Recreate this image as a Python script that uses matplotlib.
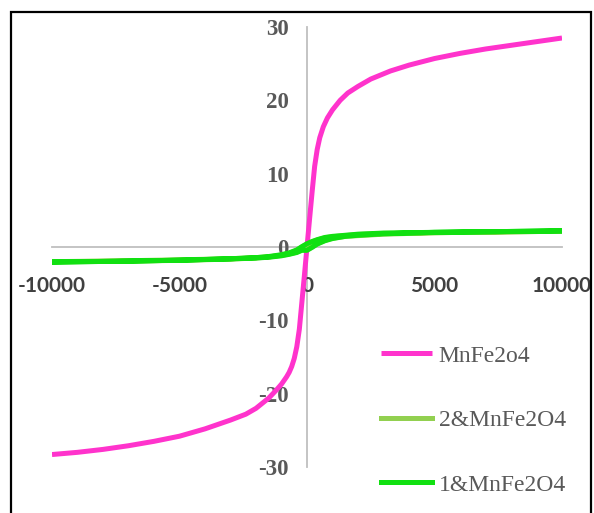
import matplotlib.pyplot as plt
from matplotlib.patches import Rectangle

plt.rcParams['axes.unicode_minus'] = False

# --- data (field in Oe, magnetisation in emu/g) ---
pink_x = [-10000, -9000, -8000, -7000, -6000, -5000, -4000, -3000, -2400, -2000,
          -1500, -1200, -1000, -800, -700, -600, -500, -400, -300, -200, -100, 0,
          100, 200, 300, 400, 500, 640, 800, 1000, 1300, 1600, 2000, 2500,
          3270, 4000, 5000, 6000, 7000, 8000, 9000, 10000]
pink_y = [-28.3, -28.0, -27.6, -27.1, -26.5, -25.8, -24.8, -23.6, -22.8, -22.0,
          -20.6, -19.5, -18.7, -17.7, -17.1, -16.3, -15.2, -13.6, -11.2, -7.5, -3.8, 0.0,
          3.8, 7.5, 11.0, 13.3, 14.9, 16.4, 17.6, 18.7, 20.0, 21.0, 21.9, 22.9,
          24.0, 24.8, 25.7, 26.4, 27.0, 27.5, 28.0, 28.5]

# hysteresis loop: descending branch then ascending branch
loop_x = [10000, 7500, 5000, 3000, 2000, 1500, 1000, 700, 400, 200, 0, -200, -400,
          -700, -1000, -1500, -2000, -3000, -5000, -7500, -10000,
          -7500, -5000, -3000, -2000, -1500, -1000, -700, -400, -200, 0, 200, 400,
          700, 1000, 1500, 2000, 3000, 5000, 7500, 10000]
green1_y = [2.2, 2.1, 2.0, 1.9, 1.75, 1.6, 1.45, 1.3, 1.0, 0.75, 0.45, 0.05, -0.4,
            -0.8, -1.05, -1.3, -1.45, -1.6, -1.8, -1.95, -2.05,
            -1.95, -1.8, -1.62, -1.5, -1.4, -1.2, -1.0, -0.75, -0.45, -0.45, -0.05, 0.4,
            0.85, 1.15, 1.45, 1.6, 1.8, 2.0, 2.1, 2.2]
green2_y = [2.15, 2.05, 1.95, 1.85, 1.7, 1.55, 1.4, 1.25, 0.95, 0.7, 0.4, 0.0, -0.45,
            -0.85, -1.1, -1.35, -1.5, -1.65, -1.82, -1.95, -2.0,
            -1.9, -1.75, -1.6, -1.45, -1.35, -1.15, -0.95, -0.7, -0.4, -0.4, 0.0, 0.45,
            0.9, 1.2, 1.45, 1.55, 1.75, 1.95, 2.05, 2.15]

labels = ['MnFe2o4', '2&MnFe2O4', '1&MnFe2O4']
colors = ['#FF33CC', '#92D050', '#11E011']
x_ticks = [-10000, -5000, 0, 5000, 10000]
y_ticks = [-30, -20, -10, 0, 10, 20, 30]

W, H = 594, 513
fig = plt.figure(figsize=(W / 100, H / 100), dpi=100)
ax = fig.add_axes([52 / W, 1 - 467 / H, 510 / W, 440 / H])

ax.plot(pink_x, pink_y, color=colors[0], lw=3.6, label=labels[0],
        solid_joinstyle='round', solid_capstyle='butt')
ax.plot(loop_x, green2_y, color=colors[1], lw=3.6, label=labels[1],
        solid_joinstyle='round')
ax.plot(loop_x, green1_y, color=colors[2], lw=3.6, label=labels[2],
        solid_joinstyle='round')

ax.set_xlim(-10000, 10000)
ax.set_ylim(-30, 30)
ax.set_xticks(x_ticks)
ax.set_yticks(y_ticks)

# axes cross at the origin, Excel style
ax.spines['left'].set_position('zero')
ax.spines['bottom'].set_position('zero')
for s in ['top', 'right']:
    ax.spines[s].set_visible(False)
for s in ['left', 'bottom']:
    ax.spines[s].set_color('#BFBFBF')
    ax.spines[s].set_linewidth(1.3)
    ax.spines[s].set_zorder(0)

ax.tick_params(axis='both', length=0)
ax.tick_params(axis='x', pad=21)
ax.tick_params(axis='y', pad=13)
for t in ax.get_xticklabels():
    t.set_fontfamily('Lato')
    t.set_fontweight('bold')
    t.set_fontsize(15)
    t.set_color('#404040')
for t in ax.get_yticklabels():
    t.set_fontfamily('Liberation Serif')
    t.set_fontweight('bold')
    t.set_fontsize(16.5)
    t.set_color('#595959')

leg = ax.legend(loc='upper left', bbox_to_anchor=(381 / W, 1 - 345 / H),
                bbox_transform=fig.transFigure, frameon=False,
                prop={'family': 'Liberation Serif', 'size': 17},
                handlelength=2.15, handletextpad=0.3, labelspacing=1.82,
                borderpad=0, borderaxespad=0)
for t in leg.get_texts():
    t.set_color('#595959')

# outer black frame (bottom edge is cut off in the reference)
fig.patches.append(Rectangle((11 / W, -0.05), 580 / W, 1.05 - 12 / H,
                             transform=fig.transFigure, fill=False,
                             edgecolor='black', linewidth=1.6))

fig.savefig('out.png', dpi=100)
